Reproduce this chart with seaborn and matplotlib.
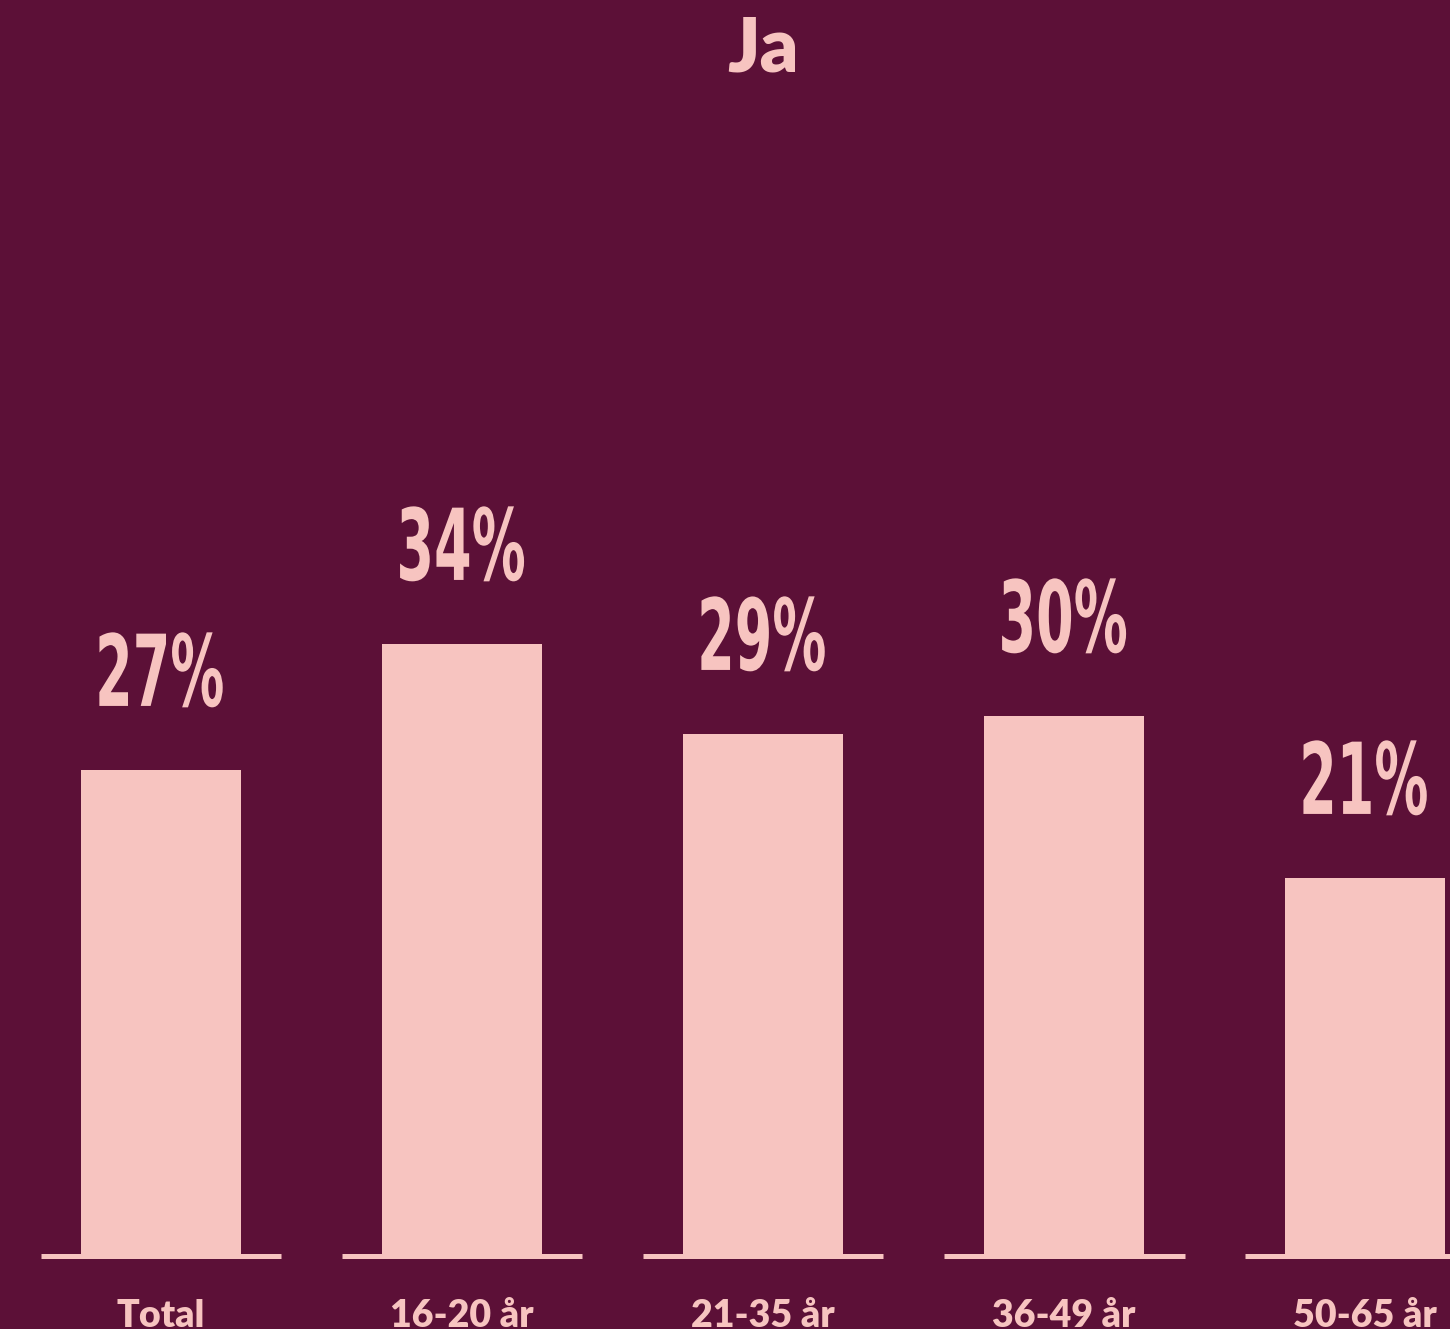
import numpy as np
import pandas as pd
import matplotlib
matplotlib.use('Agg')
import matplotlib.pyplot as plt
import seaborn as sns
from matplotlib.textpath import TextPath
from matplotlib.patches import PathPatch
from matplotlib.font_manager import FontProperties
from matplotlib.transforms import Affine2D

# data
groups = ['Total', '16-20 år', '21-35 år', '36-49 år', '50-65 år']
ja = [27, 34, 29, 30, 21]
title = 'Ja'

bg = '#5C1037'
pink = '#F7C4C0'

df = pd.DataFrame({'group': groups, 'ja': ja})

sns.set_style('white')
plt.rcParams['font.family'] = ['Lato', 'DejaVu Sans']

fig = plt.figure(figsize=(14.5, 13.29), dpi=100, facecolor=bg)
ax = fig.add_axes([0, 0, 1, 1])
ax.set_facecolor(bg)

sns.barplot(data=df, x='group', y='ja', color=pink, width=0.532,
            linewidth=0, saturation=1, ax=ax)

ax.set_xlim(-0.535, 4.282)
ax.set_ylim(-4.056, 69.78)
ax.axis('off')

# baseline segment under each bar
xs = np.arange(len(groups))
ax.hlines([0] * len(xs), xs - 0.4, xs + 0.4, color=pink, lw=3.6)

# value labels: condensed look, squeeze a bold path horizontally
fp = FontProperties(family='DejaVu Sans', weight='bold')
ref = TextPath((0, 0), '30%', size=100, prop=fp).get_extents()
sy = 75 / ref.height
sx = 124 / ref.width
for x, v in zip(xs, ja):
    tp = TextPath((0, 0), f'{v}%', size=100, prop=fp)
    ext = tp.get_extents()
    px, py = ax.transData.transform((x, v + 3.56))
    tr = Affine2D().translate(-(ext.x0 + ext.x1) / 2, 0).scale(sx, sy).translate(px, py)
    ax.add_patch(PathPatch(tp, transform=tr, fc=pink, ec='none'))

# category labels
for x, g in zip(xs, groups):
    ax.text(x, -3.94, g, ha='center', va='baseline', color=pink,
            fontsize=27, fontweight='heavy')

ax.text(2, 65.8, title, ha='center', va='baseline', color=pink,
        fontsize=54, fontweight='heavy')

fig.savefig('out.png', dpi=100, facecolor=bg)
